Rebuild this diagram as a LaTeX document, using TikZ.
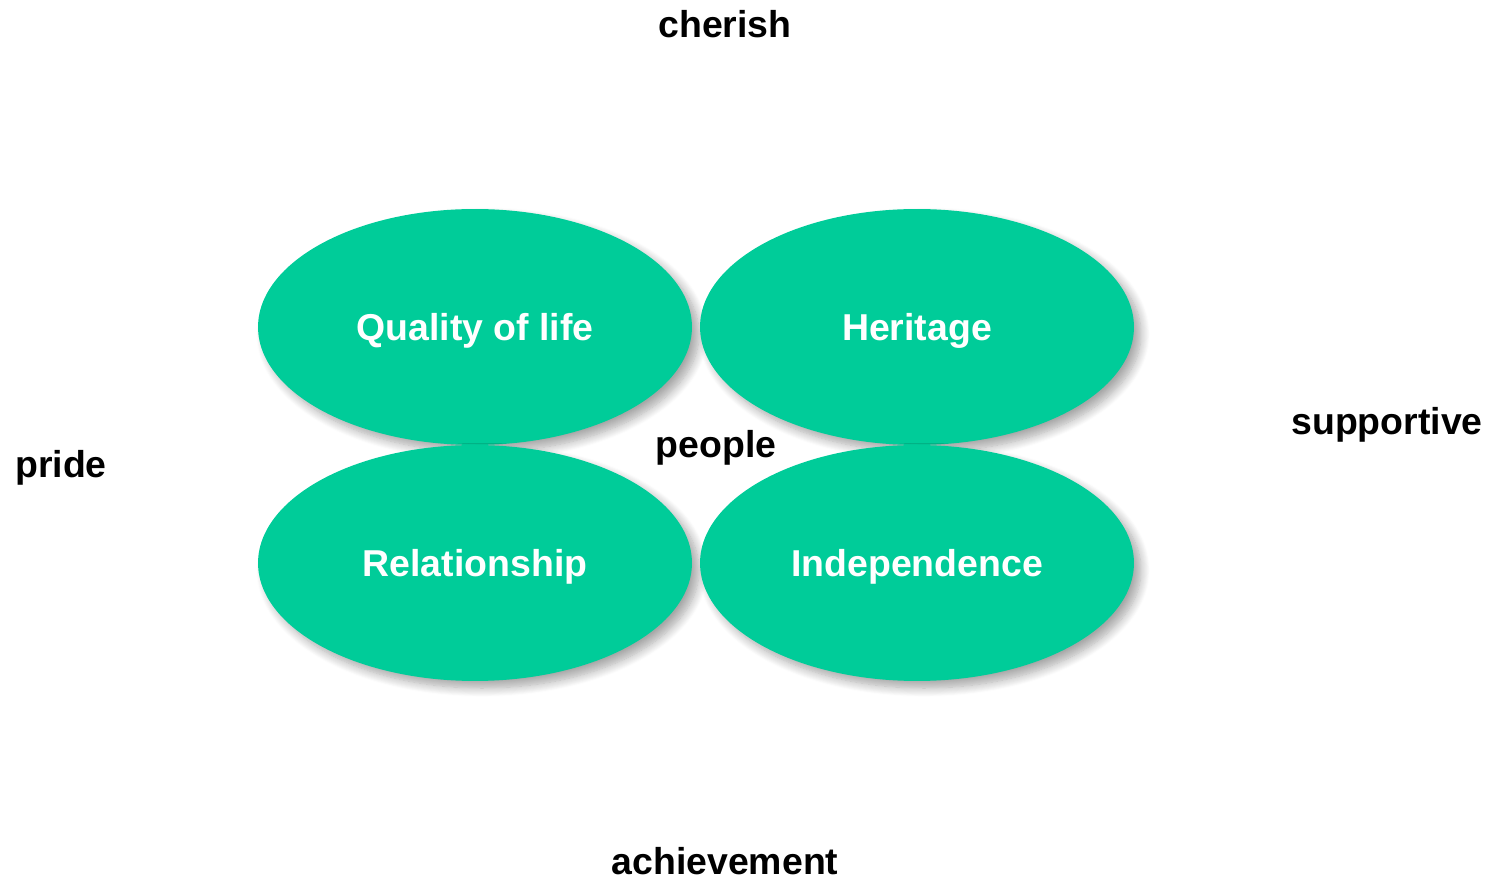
\documentclass[tikz,border=0pt]{standalone}
\usepackage{fontspec}
\setmainfont{Liberation Sans}
\usetikzlibrary{shapes.geometric,shadows.blur}
\definecolor{teal1}{HTML}{00CC99}
\tikzset{
  oval/.style={ellipse, fill=teal1, draw=none, minimum width=8.68cm, minimum height=4.72cm, inner sep=0pt,
    blur shadow={shadow xshift=4pt, shadow yshift=-4pt, shadow blur steps=10, shadow blur radius=5pt, shadow opacity=35}},
  label/.style={font=\fontsize{21.3}{24}\selectfont\bfseries, text=white, inner sep=0pt},
  word/.style={font=\fontsize{21.3}{24}\selectfont\bfseries, text=black, inner sep=0pt}
}
\begin{document}
\begin{tikzpicture}[x=0.02cm,y=-0.02cm]
\useasboundingbox (0,0) rectangle (1499,881);
\node[oval] (qol) at (475,327) {};
\node[oval] (her) at (917,327) {};
\node[oval] (rel) at (475,563) {};
\node[oval] (ind) at (917,563) {};
\node[label] (qolT) at ([yshift=-4*0.02cm]qol.center) {Quality of life};
\node[label] (herT) at ([yshift=-4*0.02cm]her.center) {Heritage};
\node[label] (relT) at ([yshift=-4*0.02cm]rel.center) {Relationship};
\node[label] (indT) at ([yshift=-4*0.02cm]ind.center) {Independence};
\node[word] (cherish) at (725,24) {cherish};
\node[word] (pride) at (61,468) {pride};
\node[word] (supp) at (1387,425) {supportive};
\node[word] (ach) at (725,861) {achievement};
\node[word] (people) at (716,448) {people};
\end{tikzpicture}
\end{document}
